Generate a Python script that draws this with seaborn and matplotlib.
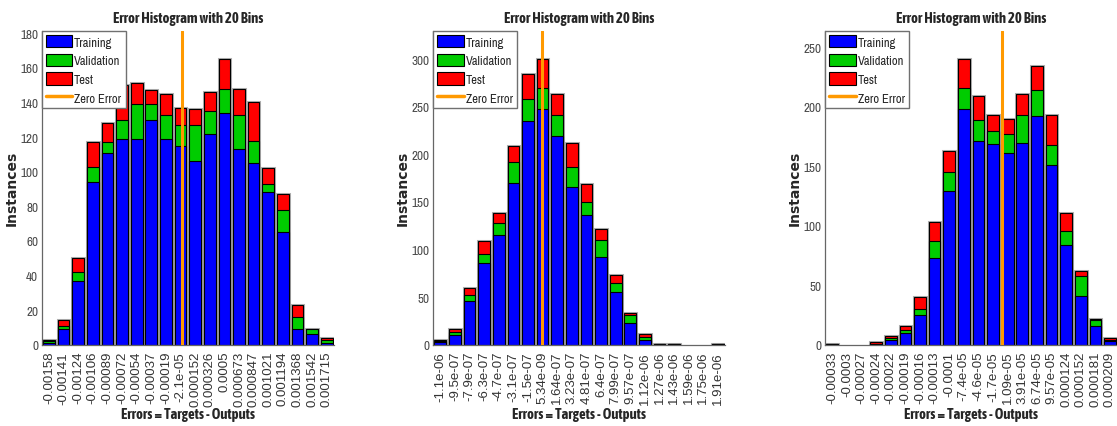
import numpy as np
import pandas as pd
import matplotlib
matplotlib.use("Agg")
import matplotlib.pyplot as plt
import seaborn as sns
from matplotlib.patches import Patch
from matplotlib.lines import Line2D
from matplotlib import font_manager as fm

# ---------------- data ----------------
p1_bins = ["-0.00158", "-0.00141", "-0.00124", "-0.00106", "-0.00089", "-0.00072",
           "-0.00054", "-0.00037", "-0.00019", "-2.1e-05", "0.000152", "0.000326",
           "0.0005", "0.000673", "0.000847", "0.001021", "0.001194", "0.001368",
           "0.001542", "0.001715"]
p1_train = [1, 9, 37, 94, 111, 119, 119, 130, 119, 115, 106, 122, 134, 113, 105, 88, 65, 9, 6, 1]
p1_val = [1, 2, 5, 9, 6, 11, 20, 9, 14, 12, 21, 13, 14, 20, 13, 5, 13, 7, 3, 2]
p1_test = [1, 3, 8, 14, 11, 20, 12, 8, 12, 10, 9, 11, 17, 15, 22, 9, 9, 7, 0, 1]
p1_yticks = [0, 20, 40, 60, 80, 100, 120, 140, 160, 180]

p2_bins = ["-1.1e-06", "-9.5e-07", "-7.9e-07", "-6.3e-07", "-4.7e-07", "-3.1e-07",
           "-1.5e-07", "5.34e-09", "1.64e-07", "3.23e-07", "4.81e-07", "6.4e-07",
           "7.99e-07", "9.57e-07", "1.12e-06", "1.27e-06", "1.43e-06", "1.59e-06",
           "1.75e-06", "1.91e-06"]
p2_train = [3, 10, 46, 86, 115, 170, 235, 248, 219, 166, 136, 92, 55, 23, 5, 1, 1, 0, 0, 1]
p2_val = [1, 3, 6, 9, 13, 22, 23, 22, 22, 21, 14, 18, 10, 8, 3, 0, 0, 0, 0, 0]
p2_test = [1, 4, 8, 14, 10, 17, 27, 30, 23, 25, 19, 12, 8, 2, 3, 0, 0, 0, 0, 0]
p2_yticks = [0, 50, 100, 150, 200, 250, 300]

p3_bins = ["-0.00033", "-0.0003", "-0.00027", "-0.00024", "-0.00022", "-0.00019",
           "-0.00016", "-0.00013", "-0.0001", "-7.4e-05", "-4.6e-05", "-1.7e-05",
           "1.09e-05", "3.91e-05", "6.74e-05", "9.57e-05", "0.000124", "0.000152",
           "0.000181", "0.000209"]
p3_train = [1, 0, 0, 1, 4, 10, 25, 73, 129, 198, 171, 169, 161, 170, 192, 151, 84, 41, 16, 3]
p3_val = [0, 0, 0, 0, 2, 2, 5, 14, 16, 18, 18, 11, 16, 23, 22, 17, 12, 17, 5, 1]
p3_test = [0, 0, 0, 1, 1, 4, 10, 16, 18, 24, 20, 13, 13, 18, 20, 25, 15, 4, 1, 2]
p3_yticks = [0, 50, 100, 150, 200, 250]

TITLE = "Error Histogram with 20 Bins"
XLABEL = "Errors = Targets - Outputs"
YLABEL = "Instances"
LEGEND = ["Training", "Validation", "Test", "Zero Error"]

# ---------------- style ----------------
BLUE, GREEN, RED, ORANGE = "#0000FF", "#00CC00", "#FF0000", "#FF9900"
sns.set_style("white")


def _weight(f):
    w = f.weight
    return w if isinstance(w, (int, float)) else fm.weight_dict.get(w, 400)


def narrow_family(need_bold):
    # prefer a narrow / condensed sans face that has the wanted weight
    by_name = {}
    for f in fm.fontManager.ttflist:
        if ("Narrow" in f.name or "Condensed" in f.name) and f.style == "normal":
            by_name.setdefault(f.name, set()).add(_weight(f))
    for n in sorted(by_name):
        ws = by_name[n]
        if need_bold and any(w >= 600 for w in ws):
            return n
        if not need_bold and any(350 <= w <= 500 for w in ws):
            return n
    return "Liberation Sans"


NARROW = narrow_family(False)
NARROW_BOLD = narrow_family(True)
REGULAR = "Liberation Sans"
plt.rcParams["font.family"] = [REGULAR, "DejaVu Sans"]

W, H = 1117, 427
fig = plt.figure(figsize=(W / 100, H / 100), dpi=100)

# axes boxes in pixels: (left, right, top, bottom)
boxes = [(41.7, 334.0, 31.7, 345.7), (433.0, 725.3, 31.7, 345.7), (825.0, 1117.3, 31.7, 345.7)]

panels = [
    (p1_bins, p1_train, p1_val, p1_test, p1_yticks),
    (p2_bins, p2_train, p2_val, p2_test, p2_yticks),
    (p3_bins, p3_train, p3_val, p3_test, p3_yticks),
]


def zero_position(bins):
    # index position of zero error along the evenly spaced bin centres
    first, last = float(bins[0]), float(bins[-1])
    step = (last - first) / (len(bins) - 1)
    return -first / step


for (l, r, t, b), (bins, tr, va, te, yt) in zip(boxes, panels):
    ax = fig.add_axes([l / W, (H - b) / H, (r - l) / W, (b - t) / H])
    tr, va, te = np.asarray(tr), np.asarray(va), np.asarray(te)
    df = pd.DataFrame({"bin": bins, "train": tr, "trainval": tr + va, "total": tr + va + te})
    common = dict(data=df, x="bin", order=bins, ax=ax, width=0.8, saturation=1, errorbar=None)

    # grey halo around each stacked bar, then stacked segments back to front
    sns.barplot(y="total", color="#b0b0b0", edgecolor="#b0b0b0", linewidth=2.2, **common)
    sns.barplot(y="total", color=RED, edgecolor="black", linewidth=0.8, **common)
    sns.barplot(y="trainval", color=GREEN, edgecolor="black", linewidth=0.8, **common)
    sns.barplot(y="train", color=BLUE, edgecolor="black", linewidth=0.8, **common)
    for p in ax.patches:
        if p.get_height() == 0:
            p.set_linewidth(0)

    ax.axvline(zero_position(bins), color=ORANGE, lw=2.2, zorder=5)

    ax.set_xlim(-0.5, len(bins) - 0.5)
    ax.set_ylim(0, 1.1 * df["total"].max())
    ax.set_yticks(yt)
    ax.set_xticks(range(len(bins)))
    ax.set_xticklabels(bins, rotation=90, fontsize=9.5, family=REGULAR, color="#333333")
    for lab in ax.get_yticklabels():
        lab.set_family(NARROW)
    ax.tick_params(axis="y", labelsize=9.5, labelcolor="#4a4a4a", direction="in",
                   length=3, color="#555555", pad=2.5)
    ax.tick_params(axis="x", direction="in", length=3, color="#555555", pad=4.5)

    for s in ["top", "right"]:
        ax.spines[s].set_visible(False)
    for s in ["left", "bottom"]:
        ax.spines[s].set_color("#666666")
        ax.spines[s].set_linewidth(0.9)

    ax.set_title(TITLE, fontsize=10.5, fontweight="bold", family=NARROW_BOLD, pad=6)
    ax.set_xlabel(XLABEL, fontsize=10.5, fontweight="bold", family=NARROW_BOLD)
    ax.xaxis.set_label_coords(0.5, -0.2)
    ax.set_ylabel(YLABEL, fontsize=10, fontweight="bold", family="DejaVu Sans")
    ax.yaxis.set_label_coords(-0.102, 0.5)
    ax.yaxis.label.set_va("center")

    handles = [
        Patch(facecolor=BLUE, edgecolor="black", linewidth=0.8),
        Patch(facecolor=GREEN, edgecolor="black", linewidth=0.8),
        Patch(facecolor=RED, edgecolor="black", linewidth=0.8),
        Line2D([0], [0], color=ORANGE, lw=2.5),
    ]
    leg = ax.legend(handles, LEGEND, loc="upper left", bbox_to_anchor=(0, 1),
                    borderaxespad=0, fancybox=False, framealpha=1,
                    prop={"family": NARROW, "size": 9},
                    handlelength=2.1, handleheight=1.15, handletextpad=0.15,
                    labelspacing=0.5, borderpad=0.35)
    leg.get_frame().set_edgecolor("#707070")
    leg.get_frame().set_linewidth(1.0)
    leg.set_zorder(10)

fig.savefig("out.png", dpi=100)
